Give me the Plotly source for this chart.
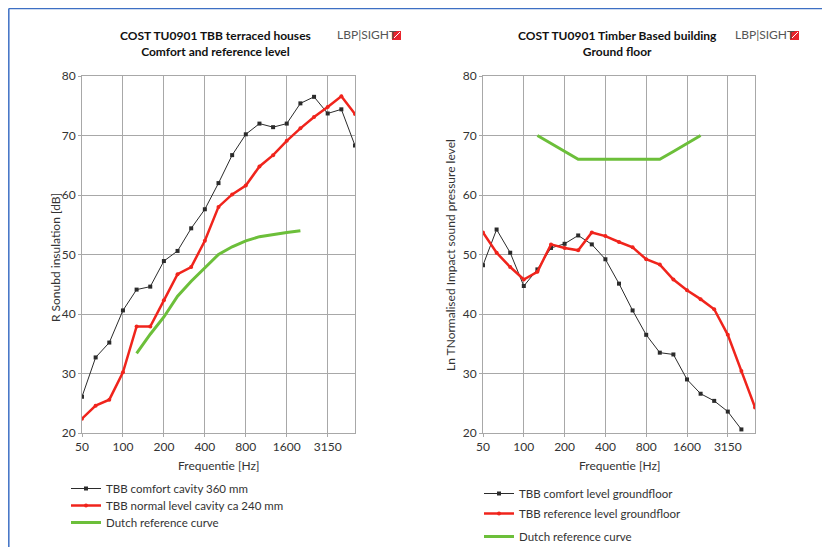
import plotly.graph_objects as go

# third-octave bands, 50 Hz .. 5000 Hz
bands = [50, 63, 80, 100, 125, 160, 200, 250, 315, 400, 500, 630, 800,
         1000, 1250, 1600, 2000, 2500, 3150, 4000, 5000]
tick_labels = ["50", "100", "200", "400", "800", "1600", "3150"]

# left chart: sound insulation
comfort_360 = [26.1, 32.7, 35.2, 40.6, 44.1, 44.6, 48.9, 50.6, 54.4, 57.6, 62.0,
               66.7, 70.2, 72.0, 71.4, 72.0, 75.4, 76.5, 73.7, 74.4, 68.3]
normal_240 = [22.4, 24.6, 25.6, 30.2, 37.9, 37.9, 42.3, 46.7, 47.9, 52.3, 58.0,
              60.1, 61.6, 64.8, 66.7, 69.1, 71.2, 73.1, 74.8, 76.6, 73.6]
dutch_left = [None, None, None, None, 33.4, 36.6, 39.5, 43.0, 45.5, 47.8, 50.0,
              51.3, 52.3, 53.0, 53.4, 53.7, 54.0, None, None, None, None]

# right chart: impact sound
comfort_gf = [48.2, 54.2, 50.3, 44.7, 47.5, 51.1, 51.8, 53.2, 51.7, 49.2, 45.1,
              40.6, 36.5, 33.5, 33.2, 29.0, 26.6, 25.4, 23.6, 20.6, None]
reference_gf = [53.7, 50.3, 47.9, 45.8, 47.1, 51.7, 51.1, 50.7, 53.7, 53.1, 52.1,
                51.2, 49.2, 48.3, 45.8, 44.0, 42.5, 40.8, 36.5, 30.4, 24.3]
dutch_right = [None, None, None, None, 70.0, 68.7, 67.3, 66.0, 66.0, 66.0, 66.0,
               66.0, 66.0, 66.0, 67.3, 68.7, 70.0, None, None, None, None]

# page body has an 8px margin on every side; keep the figure inside it (no scrollbars)
OFF = 8
W, H = 830 - 2 * OFF, 555 - 2 * OFF
idx = list(range(len(bands)))
tick_pos = [bands.index(int(t)) for t in tick_labels[:-1]] + [bands.index(3150)]

BLACK = "#2b2b2b"
RED = "#f0241c"
GREEN = "#6cbf3a"
GRID = "#a8a8a8"
TXT = "#333333"
FONT = "Lato"


def px_x(p):  # page pixel -> paper fraction
    return (p - OFF) / W


def px_y(p):
    return 1 - (p - OFF) / H


fig = go.Figure()


def add_series(xa, ya, legs, names, s1, s2, s3):
    fig.add_trace(go.Scatter(x=idx, y=s1, xaxis=xa, yaxis=ya, legend=legs[0], name=names[0],
                             mode="lines+markers", line=dict(color=BLACK, width=1),
                             marker=dict(symbol="square", size=4, color=BLACK)))
    fig.add_trace(go.Scatter(x=idx, y=s2, xaxis=xa, yaxis=ya, legend=legs[1], name=names[1],
                             mode="lines+markers", line=dict(color=RED, width=2.5),
                             marker=dict(symbol="circle", size=4, color=RED)))
    fig.add_trace(go.Scatter(x=idx, y=s3, xaxis=xa, yaxis=ya, legend=legs[2], name=names[2],
                             mode="lines", line=dict(color=GREEN, width=3)))


add_series("x", "y", ["legend", "legend2", "legend3"],
           ["TBB comfort cavity 360 mm", "TBB normal level cavity ca 240 mm",
            "Dutch reference curve"],
           comfort_360, normal_240, dutch_left)
add_series("x2", "y2", ["legend4", "legend5", "legend6"],
           ["TBB comfort level groundfloor", "TBB reference level groundfloor",
            "Dutch reference curve"],
           comfort_gf, reference_gf, dutch_right)

xcommon = dict(range=[0, 20], tickvals=tick_pos, ticktext=tick_labels, automargin=False,
               showgrid=True, gridcolor=GRID, gridwidth=1, zeroline=False,
               showline=True, linecolor=GRID, mirror=True,
               ticks="outside", ticklen=3, tickcolor=GRID,
               tickfont=dict(family=FONT, size=12, color=TXT))
ycommon = dict(range=[20, 80], dtick=10, showgrid=True, gridcolor=GRID, gridwidth=1,
               zeroline=False, showline=True, linecolor=GRID, mirror=True, automargin=False,
               ticks="outside", ticklen=3, tickcolor=GRID,
               tickfont=dict(family=FONT, size=12, color=TXT))

y_dom = [px_y(433), px_y(76)]
layout = dict(
    width=W, height=H, margin=dict(l=0, r=0, t=0, b=0, pad=0, autoexpand=False),
    paper_bgcolor="white", plot_bgcolor="white", showlegend=True,
    xaxis=dict(xcommon, domain=[px_x(82), px_x(355)], anchor="y"),
    yaxis=dict(ycommon, domain=y_dom, anchor="x"),
    xaxis2=dict(xcommon, domain=[px_x(483), px_x(755)], anchor="y2"),
    yaxis2=dict(ycommon, domain=y_dom, anchor="x2"),
)

# one legend per entry so the row spacing can follow the original
leg_pos = {"legend": (66, 488), "legend2": (66, 505), "legend3": (66, 522),
           "legend4": (479, 493), "legend5": (479, 513), "legend6": (479, 536)}
for name, (lx, cy) in leg_pos.items():
    layout[name] = dict(x=px_x(lx), y=px_y(cy - 14), xanchor="left", yanchor="top",
                        font=dict(family=FONT, size=11.5, color=TXT),
                        bgcolor="rgba(0,0,0,0)", itemwidth=30)
fig.update_layout(**layout)

# titles
titles = [(215, "<b>COST TU0901 TBB terraced houses</b><br><b>Comfort and reference level</b>"),
          (617, "<b>COST TU0901 Timber Based building</b><br><b>Ground floor</b>")]
for cx, t in titles:
    fig.add_annotation(x=px_x(cx), y=px_y(26), xref="paper", yref="paper",
                       xanchor="center", yanchor="top", showarrow=False, text=t,
                       font=dict(family=FONT, size=12, color="#111111"))

# axis titles
for cx in (218.5, 619):
    fig.add_annotation(x=px_x(cx), y=px_y(465), xref="paper", yref="paper",
                       xanchor="center", yanchor="middle", showarrow=False,
                       text="Frequentie [Hz]", font=dict(family=FONT, size=12, color=TXT))
for cx, cy, t in ((55, 258, "R Sonubd insulation [dB]"),
                  (450, 255, "Ln TNormalised Impact sound pressure level")):
    fig.add_annotation(x=px_x(cx), y=px_y(cy), xref="paper", yref="paper",
                       xanchor="center", yanchor="middle", showarrow=False, textangle=-90,
                       text=t, font=dict(family=FONT, size=12, color=TXT))

# logos
for lx in (335, 733):
    fig.add_annotation(x=px_x(lx), y=px_y(35), xref="paper", yref="paper",
                       xanchor="left", yanchor="middle", showarrow=False,
                       text="LBP|SIGHT", font=dict(family=FONT, size=12, color="#555555"))
    sq = lx + 57
    fig.add_shape(type="rect", xref="paper", yref="paper",
                  x0=px_x(sq), x1=px_x(sq + 9), y0=px_y(40), y1=px_y(31),
                  fillcolor="#e8242c", line=dict(width=0))
    fig.add_shape(type="line", xref="paper", yref="paper",
                  x0=px_x(sq + 2), x1=px_x(sq + 8), y0=px_y(38), y1=px_y(32),
                  line=dict(color="white", width=1))

# frame lines at top and left
fig.add_shape(type="line", xref="paper", yref="paper", x0=0.001, x1=1,
              y0=0.999, y1=0.999, line=dict(color="#3d6fc4", width=1.5))
fig.add_shape(type="line", xref="paper", yref="paper", x0=0.001, x1=0.001,
              y0=0.999, y1=0, line=dict(color="#3d6fc4", width=1.5))

fig.write_html("out.html")
